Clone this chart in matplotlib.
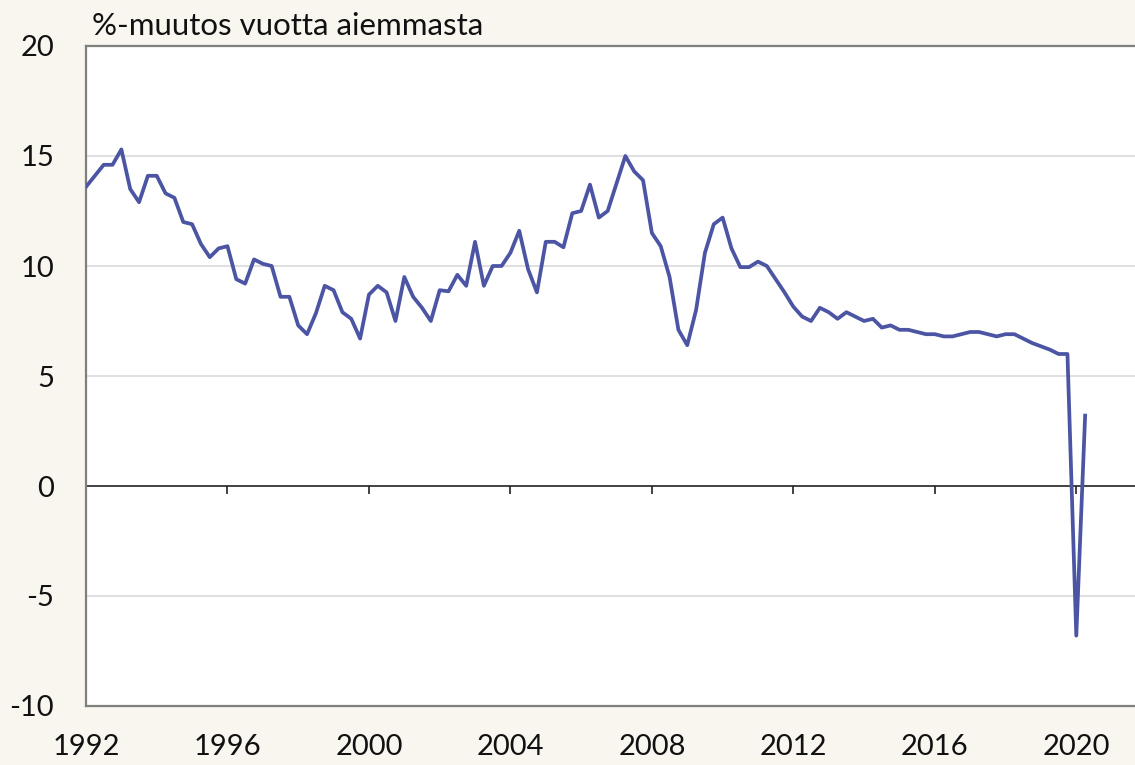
import matplotlib.pyplot as plt
import numpy as np

# quarterly % change from a year earlier, 1992Q1 onwards
values = [13.6, 14.1, 14.6, 14.6, 15.3, 13.5, 12.9, 14.1, 14.1, 13.3,
          13.1, 12.0, 11.9, 11.0, 10.4, 10.8, 10.9, 9.4, 9.2, 10.3,
          10.1, 10.0, 8.6, 8.6, 7.3, 6.9, 7.85, 9.1, 8.9, 7.9,
          7.6, 6.7, 8.7, 9.1, 8.8, 7.5, 9.5, 8.6, 8.1, 7.5,
          8.9, 8.85, 9.6, 9.1, 11.1, 9.1, 10.0, 10.0, 10.6, 11.6,
          9.85, 8.8, 11.1, 11.1, 10.85, 12.4, 12.5, 13.7, 12.2, 12.5,
          13.75, 15.0, 14.3, 13.9, 11.5, 10.9, 9.5, 7.1, 6.4, 8.0,
          10.6, 11.9, 12.2, 10.8, 9.95, 9.95, 10.2, 10.0, 9.4, 8.8,
          8.15, 7.7, 7.5, 8.1, 7.9, 7.6, 7.9, 7.7, 7.5, 7.6,
          7.2, 7.3, 7.1, 7.1, 7.0, 6.9, 6.9, 6.8, 6.8, 6.9,
          7.0, 7.0, 6.9, 6.8, 6.9, 6.9, 6.7, 6.5, 6.35, 6.2,
          6.0, 6.0, -6.8, 3.2]
start_year = 1992
years = start_year + np.arange(len(values)) * 0.25

x_ticks = [1992, 1996, 2000, 2004, 2008, 2012, 2016, 2020]
y_ticks = [-10, -5, 0, 5, 10, 15, 20]
title = "%-muutos vuotta aiemmasta"

bg = '#F9F5EF'
line_color = '#4B55A3'
font = ['Lato', 'DejaVu Sans']

fig = plt.figure(figsize=(11.35, 7.65), dpi=100, facecolor=bg)
ax = fig.add_axes([86 / 1135, 1 - 706 / 765, 1 - 86 / 1135, (706 - 46) / 765])
ax.set_facecolor('white')

ax.set_xlim(1992, 2021.66)
ax.set_ylim(-10, 20)

for y in [-5, 5, 10, 15]:
    ax.axhline(y, color='#DADADA', lw=1.2, zorder=1)
ax.axhline(0, color='#222222', lw=1.2, zorder=2)
# small tick marks hanging from the zero line
ax.vlines(x_ticks[1:], -0.38, 0, color='#222222', lw=1.2, zorder=2)

ax.plot(years, values, color=line_color, lw=2.7, zorder=3)

ax.set_xticks(x_ticks)
ax.set_yticks(y_ticks)
ax.set_yticklabels([str(v) for v in y_ticks])
ax.tick_params(axis='both', length=0, labelsize=21, colors='#111111')
ax.tick_params(axis='x', pad=20)
ax.tick_params(axis='y', pad=23)
for lab in ax.get_xticklabels() + ax.get_yticklabels():
    lab.set_family(font)

for side in ['left', 'top', 'bottom']:
    ax.spines[side].set_color('#7F7F7F')
    ax.spines[side].set_linewidth(1.6)
ax.spines['right'].set_visible(False)

fig.text(92 / 1135, 1 - 26 / 765, title, fontsize=22.5, family=font,
         color='#111111', ha='left', va='center')

fig.savefig('out.png', dpi=100, facecolor=bg)
